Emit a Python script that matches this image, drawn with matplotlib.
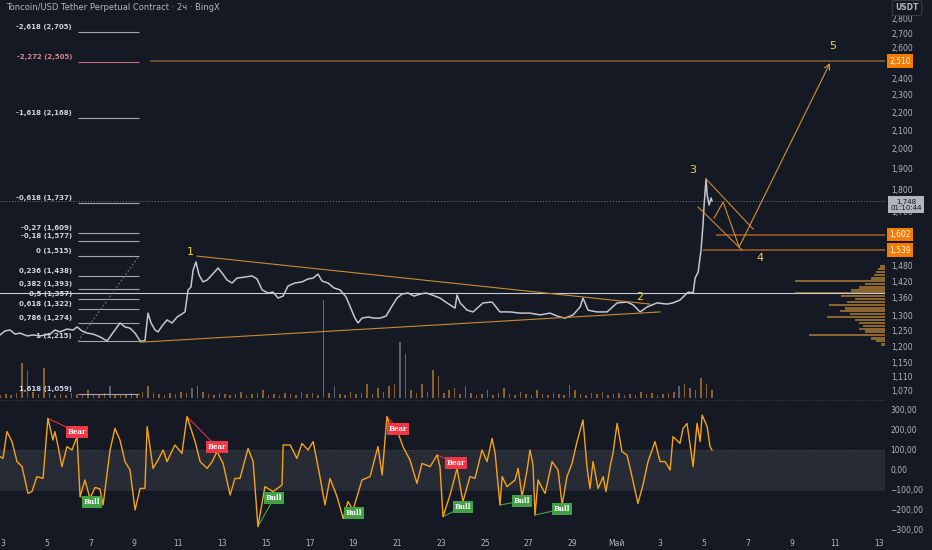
import numpy as np
import matplotlib
matplotlib.use('Agg')
import matplotlib.pyplot as plt
from matplotlib.ticker import FixedLocator, NullLocator, FuncFormatter
from matplotlib.lines import Line2D

# ---- data (days counted from 3 April) ----
price_days = [-0.14, 0.09, 0.32, 0.55, 0.78, 1.10, 1.37, 1.69, 2.15, 2.37, 2.60, 2.92, 3.20, 3.38,
              3.61, 3.84, 4.11, 4.43, 4.75, 4.98, 5.21, 5.34, 5.57, 5.80, 6.03, 6.26, 6.48, 6.62,
              6.76, 6.94, 7.08, 7.26, 7.49, 7.72, 7.95, 8.17, 8.31, 8.45, 8.58, 8.68, 8.81, 8.95,
              9.13, 9.32, 9.54, 9.82, 10.00, 10.23, 10.46, 10.68, 11.05, 11.37, 11.60, 11.83, 12.10,
              12.33, 12.56, 12.79, 13.01, 13.33, 13.65, 13.93, 14.16, 14.38, 14.57, 14.84, 15.11,
              15.39, 15.66, 15.84, 16.07, 16.21, 16.39, 16.67, 16.94, 17.21, 17.49, 17.76, 17.99,
              18.22, 18.49, 18.77, 19.04, 19.32, 19.59, 19.95, 20.27, 20.64, 20.73, 20.87, 21.19,
              21.46, 21.92, 22.33, 22.69, 23.15, 23.61, 24.06, 24.52, 24.98, 25.30, 25.66, 26.03,
              26.35, 26.48, 26.71, 27.12, 27.58, 28.04, 28.49, 28.77, 29.09, 29.41, 29.86, 30.32,
              30.59, 30.91, 31.28, 31.51, 31.60, 31.74, 31.87, 31.96, 32.01, 32.10, 32.15, 32.24,
              32.33, 32.37]
price_vals = [1.235, 1.248, 1.251, 1.238, 1.241, 1.232, 1.235, 1.232, 1.238, 1.251, 1.245, 1.254, 1.251,
              1.261, 1.248, 1.241, 1.238, 1.229, 1.216, 1.238, 1.261, 1.274, 1.261, 1.257, 1.241, 1.216,
              1.216, 1.307, 1.274, 1.251, 1.245, 1.264, 1.284, 1.274, 1.294, 1.304, 1.311, 1.388, 1.398,
              1.461, 1.492, 1.443, 1.417, 1.424, 1.443, 1.469, 1.450, 1.424, 1.413, 1.431, 1.435, 1.439,
              1.428, 1.388, 1.377, 1.380, 1.359, 1.366, 1.402, 1.413, 1.417, 1.428, 1.431, 1.446, 1.420,
              1.413, 1.395, 1.388, 1.363, 1.331, 1.290, 1.274, 1.290, 1.294, 1.290, 1.290, 1.297, 1.331,
              1.359, 1.373, 1.377, 1.366, 1.373, 1.377, 1.370, 1.359, 1.342, 1.324, 1.370, 1.342, 1.317,
              1.311, 1.342, 1.345, 1.311, 1.311, 1.307, 1.307, 1.301, 1.307, 1.297, 1.290, 1.301, 1.328,
              1.359, 1.317, 1.311, 1.311, 1.342, 1.345, 1.335, 1.311, 1.328, 1.342, 1.338, 1.342, 1.352,
              1.380, 1.377, 1.431, 1.454, 1.539, 1.642, 1.729, 1.850, 1.775, 1.729, 1.761, 1.748]

vol_vals = [3, 4, 3, 5, 35, 28, 6, 4, 30, 5, 3, 4, 3, 5, 4, 3, 8, 4, 3, 5, 12, 4, 3, 4, 5, 3, 6, 12,
            5, 4, 3, 5, 4, 6, 5, 10, 12, 6, 4, 3, 5, 4, 3, 4, 6, 3, 4, 5, 8, 3, 4, 3, 5, 4, 3, 6,
            4, 5, 3, 98, 5, 12, 4, 3, 6, 4, 5, 14, 4, 10, 6, 12, 14, 56, 44, 8, 5, 14, 6, 28, 22, 5,
            8, 10, 4, 12, 5, 3, 4, 8, 3, 5, 10, 4, 3, 6, 4, 3, 8, 4, 3, 5, 4, 3, 13, 8, 4, 3, 5, 4,
            6, 3, 4, 5, 3, 4, 3, 6, 4, 5, 3, 4, 5, 6, 12, 14, 10, 8, 20, 14, 8]
vol_gray = [5, 20, 35, 61, 73, 104, 124]

vp_prices = [1.476, 1.465, 1.454, 1.443, 1.431, 1.420, 1.409, 1.398, 1.387, 1.377, 1.366, 1.356, 1.345,
             1.335, 1.324, 1.314, 1.304, 1.294, 1.284, 1.274, 1.264, 1.254, 1.245, 1.235, 1.225, 1.216, 1.206]
vp_volume = [5, 7, 9, 11, 14, 90, 20, 26, 34, 90, 44, 30, 38, 56, 40, 45, 35, 58, 30, 26, 22, 26, 20,
             76, 14, 9, 4]

fib_ratios = [-2.618, -2.272, -1.618, -0.618, -0.27, -0.18, 0, 0.236, 0.382, 0.5, 0.618, 0.786, 1, 1.618]
fib_prices = [2.705, 2.505, 2.168, 1.737, 1.609, 1.577, 1.515, 1.438, 1.393, 1.357, 1.322, 1.274, 1.215, 1.059]
fib_span = [3.42, 6.21]

tri_upper_days, tri_upper_prices = [8.86, 29.54], [1.515, 1.338]
tri_lower_days, tri_lower_prices = [6.26, 30.00], [1.212, 1.311]
chan_upper_days, chan_upper_prices = [32.10, 34.25], [1.850, 1.625]
chan_lower_days, chan_lower_prices = [31.74, 33.74], [1.720, 1.539]
zig_days, zig_prices = [32.47, 32.88, 33.61], [1.672, 1.743, 1.551]
target_day, target_price = 37.76, 2.498

waves = ['1', '2', '3', '4', '5']
wave_days = [8.54, 29.09, 31.51, 34.57, 37.90]
wave_prices = [1.531, 1.363, 1.893, 1.508, 2.611]

ray_prices = [2.510, 1.602, 1.539]
ray_starts = [6.71, 32.56, 31.96]
poc_price = 1.376

cci_days = [-0.14, 0.00, 0.18, 0.41, 0.64, 0.87, 1.14, 1.32, 1.55, 1.83, 2.05, 2.28, 2.37, 2.51, 2.69,
            2.92, 3.15, 3.38, 3.52, 3.74, 3.97, 4.20, 4.43, 4.57, 4.89, 5.11, 5.34, 5.57, 5.80, 6.03,
            6.26, 6.48, 6.58, 6.85, 7.08, 7.31, 7.49, 7.85, 8.17, 8.40, 8.77, 9.00, 9.32, 9.54, 9.77,
            10.05, 10.37, 10.59, 10.82, 11.19, 11.42, 11.64, 11.96, 12.33, 12.74, 12.79, 13.11, 13.42,
            13.65, 13.93, 14.16, 14.47, 14.70, 14.93, 15.25, 15.53, 15.75, 15.98, 16.39, 16.76, 17.12,
            17.31, 17.53, 17.76, 17.99, 18.26, 18.58, 18.90, 19.13, 19.50, 19.82, 19.95, 20.09, 20.41,
            20.73, 21.00, 21.32, 21.55, 21.87, 22.10, 22.33, 22.47, 22.69, 22.79, 23.01, 23.38, 23.52,
            23.70, 23.93, 24.06, 24.20, 24.29, 24.43, 24.75, 25.07, 25.34, 25.53, 25.75, 25.98, 26.21,
            26.48, 26.67, 26.80, 26.94, 27.17, 27.40, 27.53, 27.72, 27.85, 28.04, 28.26, 28.49, 28.72,
            28.99, 29.22, 29.45, 29.77, 30.00, 30.23, 30.46, 30.59, 30.91, 31.05, 31.23, 31.51, 31.69,
            31.83, 31.92, 32.15, 32.28, 32.37]
cci_vals = [67, 58, 192, 142, 42, 17, -117, -108, -33, -42, 258, 150, 192, 120, 17, 117, 100, 167, -133,
            -50, -142, -87, -95, -175, 100, 208, 150, 42, 0, -200, -92, -92, 217, 8, 50, 100, 42, 125,
            83, 267, 142, 42, 8, 40, 92, 33, -125, -42, -42, 108, 42, -283, -83, -108, -75, 125, 125,
            58, 133, 100, 142, -33, -175, -42, -133, -242, -158, -200, -50, -33, 117, -25, 267, 183,
            200, 117, 50, -67, 33, 17, 75, 17, -233, -125, 8, -158, -33, -42, 100, 42, 158, 83, -175,
            -33, -83, -50, 8, -133, 0, 100, 25, -225, -50, -117, 42, 0, -175, -33, 33, 142, 250, 8,
            -92, 42, -92, -33, -108, 17, 83, 233, 92, 75, -33, -167, -75, 42, 142, 42, 42, 0, 167, 133,
            208, 233, 17, 233, 142, 275, 217, 117, 100]

bear_src_days, bear_src_vals = [2.05, 8.40, 17.53, 19.82], [258, 267, 267, 75]
bear_lbl_days, bear_lbl_vals = [3.38, 9.77, 18.04, 20.68], [190, 115, 205, 35]
bull_src_days, bull_src_vals = [3.52, 11.64, 15.53, 20.09, 22.69, 24.29], [-133, -283, -242, -233, -175, -225]
bull_lbl_days, bull_lbl_vals = [4.07, 12.37, 16.03, 21.00, 23.70, 25.53], [-160, -140, -215, -185, -155, -195]

price_ticks = [1.07, 1.11, 1.15, 1.2, 1.25, 1.3, 1.36, 1.42, 1.48, 1.7, 1.8, 1.9, 2.0, 2.1, 2.2,
               2.3, 2.4, 2.6, 2.7, 2.8]
cci_ticks = [-300, -200, -100, 0, 100, 200, 300]
date_ticks = list(range(0, 41, 2))
date_labels = ['3', '5', '7', '9', '11', '13', '15', '17', '19', '21', '23', '25', '27', '29',
               'Май', '3', '5', '7', '9', '11', '13']

title = 'Toncoin/USD Tether Perpetual Contract · 2ч · BingX'

# ---- style ----
BG = '#151924'
TXT = '#b2b5be'
ORANGE = '#c98a35'
XLIM = (-0.137, 40.27)
PLIM = (1.049, 2.941)
W, H = 932, 550


def rect(x0, y0, x1, y1):
    return [x0 / W, 1 - y1 / H, (x1 - x0) / W, (y1 - y0) / H]


def ru(v, n=3):
    s = f'{abs(v):.{n}f}'.replace('.', ',')
    return ('\u2212' + s) if v < 0 else s


def fib_txt(r):
    return ('%g' % r).replace('.', ',')


fig = plt.figure(figsize=(W / 100, H / 100), dpi=100, facecolor=BG)
main_rect = rect(0, 0, 885, 398)

# volume bars
ax_vol = fig.add_axes(main_rect, zorder=0)
ax_vol.axis('off')
vol_days = -0.125 + 0.25 * np.arange(len(vol_vals))
vol_cols = ['#5d606b' if i in vol_gray else '#8f5f26' for i in range(len(vol_vals))]
ax_vol.bar(vol_days, vol_vals, width=0.07, color=vol_cols)
ax_vol.set_xlim(XLIM)
ax_vol.set_ylim(0, 398)

# volume profile
ax_vp = fig.add_axes(main_rect, zorder=0.5)
ax_vp.axis('off')
ax_vp.set_yscale('log')
vp_p = np.array(vp_prices)
ax_vp.barh(vp_p, vp_volume, height=vp_p * 0.0072, left=0, color='#8a6530')
ax_vp.set_xlim(885, 0)
ax_vp.set_ylim(PLIM)

# main price pane
ax = fig.add_axes(main_rect, zorder=1)
ax.patch.set_visible(False)
ax.set_yscale('log')
ax.set_xlim(XLIM)
ax.set_ylim(PLIM)
for s in ax.spines.values():
    s.set_visible(False)
ax.set_xticks([])
ax.yaxis.set_major_locator(FixedLocator(price_ticks))
ax.yaxis.set_minor_locator(NullLocator())
ax.yaxis.set_major_formatter(FuncFormatter(lambda v, p: ru(v)))
ax.yaxis.tick_right()
ax.tick_params(axis='y', length=0, pad=4.5, labelsize=5.5, labelcolor=TXT)

ax.axhline(poc_price, color='#c9ccd3', lw=0.8, zorder=2)
ax.axhline(price_vals[-1], color='#787b86', lw=0.7, ls=(0, (1, 2)), zorder=2)

# fib levels
for r, p in zip(fib_ratios, fib_prices):
    col = '#c26d7c' if r == -2.272 else '#a3a6af'
    tcol = '#d9848f' if r == -2.272 else '#d1d4dc'
    ax.hlines(p, fib_span[0], fib_span[1], colors=col, lw=0.8, zorder=2)
    ax.annotate(f'{fib_txt(r)} ({ru(p)})', xy=(fib_span[0], p), xytext=(-6, 5),
                textcoords='offset pixels', ha='right', va='center', fontsize=5,
                fontweight='bold', color=tcol, zorder=4)
ax.plot([fib_span[0], fib_span[1]], [fib_prices[-2], fib_prices[6]], color='#787b86',
        lw=0.7, ls=(0, (2, 2)), zorder=2)

# rays
for p, d0, c in zip(ray_prices, ray_starts, ['#7a5a36', '#9a5c26', '#9a5c26']):
    ax.hlines(p, d0, XLIM[1], colors=c, lw=1.2, zorder=2)

ax.plot(price_days, price_vals, color='#c3c6ce', lw=1.1, zorder=3)

# wave drawings
ax.plot(tri_upper_days, tri_upper_prices, color=ORANGE, lw=0.8, zorder=4)
ax.plot(tri_lower_days, tri_lower_prices, color=ORANGE, lw=0.8, zorder=4)
ax.plot(chan_upper_days, chan_upper_prices, color=ORANGE, lw=0.8, zorder=4)
ax.plot(chan_lower_days, chan_lower_prices, color=ORANGE, lw=0.8, zorder=4)
ax.plot(zig_days, zig_prices, color='#d8922e', lw=0.8, zorder=4)
ax.annotate('', xy=(target_day, target_price), xytext=(zig_days[-1], zig_prices[-1]),
            arrowprops=dict(arrowstyle='->', color='#d8922e', lw=0.8, shrinkA=0, shrinkB=0),
            zorder=4)
for w, d, p in zip(waves, wave_days, wave_prices):
    ax.text(d, p, w, color='#f0d643', fontsize=8, ha='center', va='center', zorder=5)

# price scale labels
for p in ray_prices:
    ax.annotate(ru(p), xy=(1.0, p), xycoords=('axes fraction', 'data'), xytext=(15, 0),
                textcoords='offset pixels', ha='center', va='center', fontsize=5.5, color='white',
                annotation_clip=False, zorder=6,
                bbox=dict(boxstyle='square,pad=0.3', fc='#f57c00', ec='none'))
ax.annotate(f'{ru(price_vals[-1])}\n01:10:44', xy=(1.0, price_vals[-1]),
            xycoords=('axes fraction', 'data'), xytext=(21, -4), textcoords='offset pixels',
            ha='center', va='center', fontsize=5, color='#131722', linespacing=1.0,
            annotation_clip=False, zorder=6,
            bbox=dict(boxstyle='square,pad=0.35', fc='#b2b5be', ec='none'))

fig.text(907 / W, 1 - 8 / H, 'USDT', ha='center', va='center', fontsize=5.5, color=TXT,
         fontweight='bold',
         bbox=dict(boxstyle='round,pad=0.4,rounding_size=0.3', fc=BG, ec='#363a45', lw=0.8))
fig.text(6 / W, 1 - 7 / H, title, ha='left', va='center', fontsize=6, color=TXT)

# separator between panes
fig.add_artist(Line2D([0, 885 / W], [1 - 400 / H] * 2, color='#363a45', lw=0.8, ls=(0, (1, 1))))

# CCI pane
ax_c = fig.add_axes(rect(0, 401, 885, 535))
ax_c.patch.set_visible(False)
for s in ax_c.spines.values():
    s.set_visible(False)
ax_c.set_xlim(XLIM)
ax_c.set_ylim(-325, 345)
ax_c.axhspan(-100, 100, color='#272b36', lw=0, zorder=0)
ax_c.axhline(100, color='#4a4e59', lw=0.6, ls=(0, (1, 2)), zorder=1)
ax_c.axhline(-100, color='#4a4e59', lw=0.6, ls=(0, (1, 2)), zorder=1)
ax_c.plot(cci_days, cci_vals, color='#f5a31a', lw=1.0, zorder=3)

for sd, sv, ld, lv in zip(bear_src_days, bear_src_vals, bear_lbl_days, bear_lbl_vals):
    ax_c.plot([sd, ld], [sv, lv], color='#f23645', lw=0.7, zorder=2)
    ax_c.text(ld, lv, 'Bear', ha='center', va='center', fontsize=5, color='white',
              family='DejaVu Serif', fontweight='bold', zorder=5,
              bbox=dict(boxstyle='square,pad=0.25', fc='#f23645', ec='none'))
for sd, sv, ld, lv in zip(bull_src_days, bull_src_vals, bull_lbl_days, bull_lbl_vals):
    ax_c.plot([sd, ld], [sv, lv], color='#4caf50', lw=0.7, zorder=2)
    ax_c.text(ld, lv, 'Bull', ha='center', va='center', fontsize=5, color='white',
              family='DejaVu Serif', fontweight='bold', zorder=5,
              bbox=dict(boxstyle='square,pad=0.25', fc='#43a047', ec='none'))

ax_c.yaxis.set_major_locator(FixedLocator(cci_ticks))
ax_c.yaxis.set_major_formatter(FuncFormatter(lambda v, p: ru(v, 2)))
ax_c.yaxis.tick_right()
ax_c.tick_params(axis='y', length=0, pad=4, labelsize=5.5, labelcolor=TXT)
ax_c.set_xticks(date_ticks)
ax_c.set_xticklabels(date_labels)
ax_c.tick_params(axis='x', length=0, pad=3, labelsize=5.5, labelcolor=TXT)

fig.savefig('out.png', dpi=100, facecolor=BG)
